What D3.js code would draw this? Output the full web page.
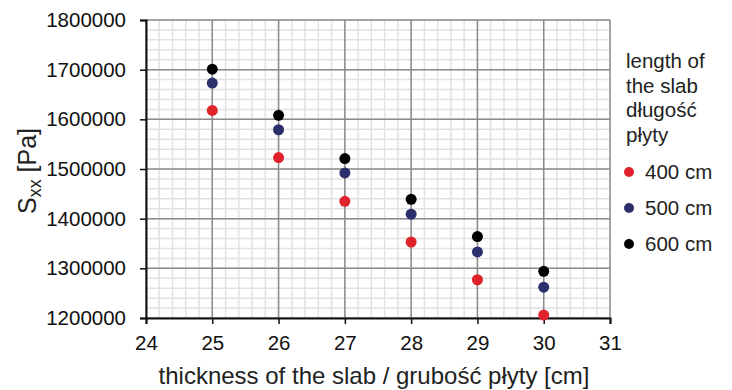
<!DOCTYPE html>
<html>
<head>
<meta charset="utf-8">
<script src="https://cdn.jsdelivr.net/npm/d3@7"></script>
<style>
  body { margin: 0; background: #fff; }
  svg { display: block; font-family: "Liberation Sans", Arial, sans-serif; }
</style>
</head>
<body>
<svg id="chart" width="732" height="390"></svg>
<script>
const thickness = [25, 26, 27, 28, 29, 30];
const s400 = [1618000, 1523000, 1435000, 1353000, 1277000, 1206000];
const s500 = [1673000, 1579000, 1492000, 1409000, 1333000, 1262000];
const s600 = [1701000, 1608000, 1521000, 1439000, 1364000, 1294000];
const seriesNames = ["400 cm", "500 cm", "600 cm"];
const seriesColors = ["#e0232b", "#2b2f6b", "#000000"];
const xTicks = [24, 25, 26, 27, 28, 29, 30, 31];
const yTicks = [1200000, 1300000, 1400000, 1500000, 1600000, 1700000, 1800000];
const legendTitle = ["length of", "the slab", "długość", "płyty"];

const svg = d3.select("#chart");
const L = 146, R = 610, T = 20, B = 318;
const x = d3.scaleLinear().domain([24, 31]).range([L, R]);
const y = d3.scaleLinear().domain([1200000, 1800000]).range([B, T]);

// minor grid
const minorX = d3.range(24, 31.001, 0.2);
const minorY = d3.range(1200000, 1800001, 20000);
const g = svg.append("g");
g.selectAll(".mx").data(minorX).enter().append("line")
  .attr("x1", d => x(d)).attr("x2", d => x(d)).attr("y1", T).attr("y2", B)
  .attr("stroke", "#e2e2e2").attr("stroke-width", 1.5);
g.selectAll(".my").data(minorY).enter().append("line")
  .attr("y1", d => y(d)).attr("y2", d => y(d)).attr("x1", L).attr("x2", R)
  .attr("stroke", "#e2e2e2").attr("stroke-width", 1.5);
// major grid
g.selectAll(".Mx").data(xTicks).enter().append("line")
  .attr("x1", d => x(d)).attr("x2", d => x(d)).attr("y1", T).attr("y2", B)
  .attr("stroke", "#8c8c8c").attr("stroke-width", 1.5);
g.selectAll(".My").data(yTicks).enter().append("line")
  .attr("y1", d => y(d)).attr("y2", d => y(d)).attr("x1", L).attr("x2", R)
  .attr("stroke", "#8c8c8c").attr("stroke-width", 1.5);

// axes
const xAxis = svg.append("g").attr("transform", `translate(0,${B})`)
  .call(d3.axisBottom(x).tickValues(xTicks).tickSize(6).tickPadding(11).tickFormat(d3.format("d")));
const yAxis = svg.append("g").attr("transform", `translate(${L},0)`)
  .call(d3.axisLeft(y).tickValues(yTicks).tickSize(6).tickPadding(14).tickFormat(d3.format("d")));
[xAxis, yAxis].forEach(a => {
  a.select(".domain").attr("stroke", "#111").attr("stroke-width", 2);
  a.selectAll(".tick line").attr("stroke", "#111").attr("stroke-width", 1.5);
  a.selectAll(".tick text").attr("font-size", 20.5).attr("fill", "#111")
    .attr("font-family", "'Liberation Sans', Arial, sans-serif");
});

// points
const series = [s400, s500, s600];
series.forEach((vals, i) => {
  svg.append("g").selectAll("circle").data(vals).enter().append("circle")
    .attr("cx", (d, j) => x(thickness[j])).attr("cy", d => y(d))
    .attr("r", 5.5).attr("fill", seriesColors[i]);
});

// axis titles
svg.append("text").attr("x", 374).attr("y", 384)
  .attr("text-anchor", "middle").attr("font-size", 24).attr("fill", "#222")
  .text("thickness of the slab / grubość płyty [cm]");
const yt = svg.append("text").attr("transform", "translate(36,171) rotate(-90)")
  .attr("text-anchor", "middle").attr("font-size", 25).attr("fill", "#222");
yt.append("tspan").text("S");
yt.append("tspan").attr("font-size", 18).attr("dy", 5).text("xx");
yt.append("tspan").attr("dy", -5).text(" [Pa]");

// legend
const lg = svg.append("g");
lg.selectAll("text.t").data(legendTitle).enter().append("text")
  .attr("x", 626).attr("y", (d, i) => 68 + i * 24.5)
  .attr("font-size", 20.5).attr("fill", "#222").text(d => d);
seriesNames.forEach((n, i) => {
  const cy = 172 + i * 36;
  lg.append("circle").attr("cx", 629).attr("cy", cy).attr("r", 5).attr("fill", seriesColors[i]);
  lg.append("text").attr("x", 645).attr("y", cy + 7).attr("font-size", 20.5)
    .attr("fill", "#222").text(n);
});
</script>
</body>
</html>
